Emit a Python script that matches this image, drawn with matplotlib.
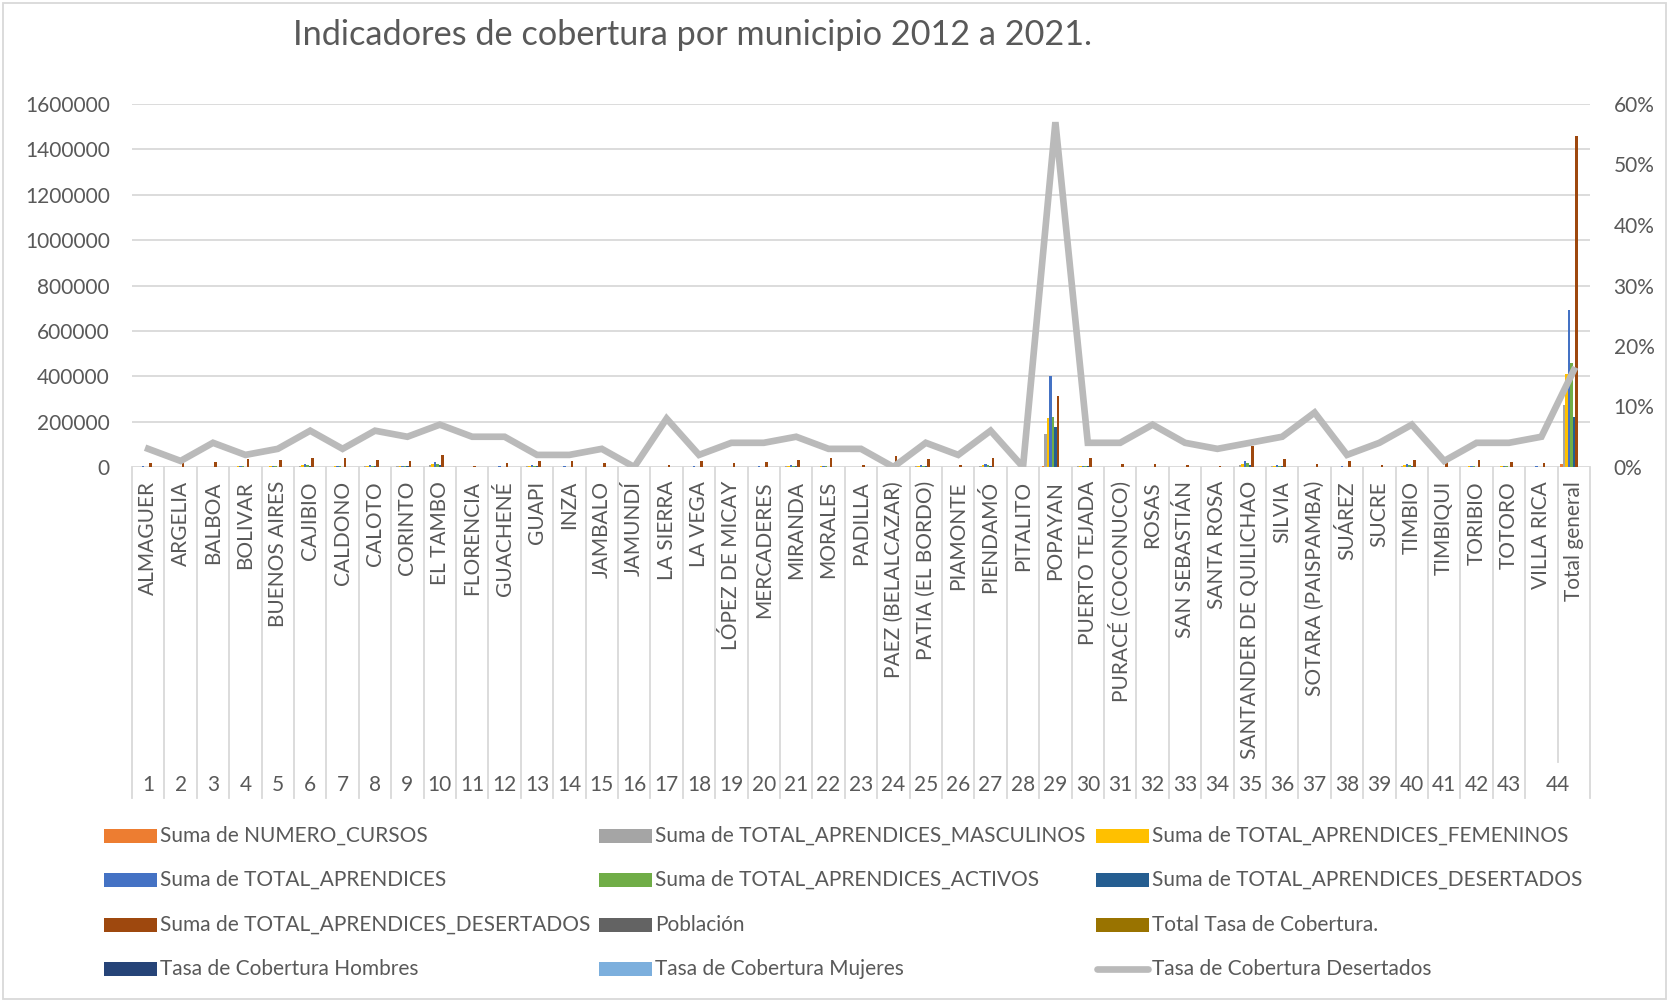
import matplotlib
matplotlib.use("Agg")
import matplotlib.pyplot as plt
from matplotlib.patches import Rectangle
from matplotlib.lines import Line2D
from matplotlib.ticker import FuncFormatter, MultipleLocator
from matplotlib import transforms

plt.rcParams['font.family'] = ['Lato', 'DejaVu Sans']

# ---------------- data ----------------
municipios = ["ALMAGUER", "ARGELIA", "BALBOA", "BOLIVAR", "BUENOS AIRES", "CAJIBIO", "CALDONO",
              "CALOTO", "CORINTO", "EL TAMBO", "FLORENCIA", "GUACHENÉ", "GUAPI", "INZA", "JAMBALO",
              "JAMUNDÍ", "LA SIERRA", "LA VEGA", "LÓPEZ DE MICAY", "MERCADERES", "MIRANDA",
              "MORALES", "PADILLA", "PAEZ (BELALCAZAR)", "PATIA (EL BORDO)", "PIAMONTE",
              "PIENDAMÓ", "PITALITO", "POPAYAN", "PUERTO TEJADA", "PURACÉ (COCONUCO)", "ROSAS",
              "SAN SEBASTIÁN", "SANTA ROSA", "SANTANDER DE QUILICHAO", "SILVIA",
              "SOTARA (PAISPAMBA)", "SUÁREZ", "SUCRE", "TIMBIO", "TIMBIQUI", "TORIBIO", "TOTORO",
              "VILLA RICA", "Total general"]
numeros = ["1", "2", "3", "4", "5", "6", "7", "8", "9", "10", "11", "12", "13", "14", "15", "16",
           "17", "18", "19", "20", "21", "22", "23", "24", "25", "26", "27", "28", "29", "30", "31",
           "32", "33", "34", "35", "36", "37", "38", "39", "40", "41", "42", "43", "44"]

numero_cursos = [150, 100, 100, 200, 200, 400, 200, 300, 200, 500, 50, 150, 250, 150, 100, 10, 100,
                 150, 100, 150, 300, 200, 50, 150, 300, 50, 400, 10, 5500, 200, 100, 100, 50, 50,
                 600, 300, 100, 150, 50, 400, 100, 200, 150, 100, 13000]
aprendices_masculinos = [1200, 800, 800, 2000, 1600, 6000, 2000, 3200, 2400, 9000, 400, 1200, 3200,
                         1200, 800, 40, 800, 1200, 800, 1200, 3200, 2000, 400, 1200, 4000, 400, 5600,
                         40, 146000, 2400, 800, 800, 400, 400, 10000, 3200, 800, 1200, 400, 4800,
                         800, 2000, 1600, 1200, 274000]
aprendices_femeninos = [1800, 1200, 1200, 3000, 2400, 9000, 3000, 4800, 3600, 13000, 600, 1800, 4800,
                        1800, 1200, 60, 1200, 1800, 1200, 1800, 4800, 3000, 600, 1800, 6000, 600,
                        8400, 60, 217000, 3600, 1200, 1200, 600, 600, 15000, 4800, 1200, 1800, 600,
                        7200, 1200, 3000, 2400, 1800, 411000]
total_aprendices = [3000, 2000, 2000, 5000, 4000, 15000, 5000, 8000, 6000, 22000, 1000, 3000, 8000,
                    3000, 2000, 100, 2000, 3000, 2000, 3000, 8000, 5000, 1000, 3000, 10000, 1000,
                    14000, 100, 402000, 6000, 2000, 2000, 1000, 1000, 25000, 8000, 2000, 3000, 1000,
                    12000, 2000, 5000, 4000, 3000, 690000]
aprendices_activos = [1800, 1200, 1200, 3000, 2400, 10000, 3000, 5000, 3600, 15000, 600, 1800, 5000,
                      1800, 1200, 60, 1200, 1800, 1200, 1800, 5000, 3000, 600, 1800, 6000, 600, 9000,
                      60, 221000, 3600, 1200, 1200, 600, 600, 17000, 5000, 1200, 1800, 600, 8000,
                      1200, 3000, 2400, 1800, 460000]
aprendices_desertados = [1200, 800, 800, 2000, 1600, 5000, 2000, 3000, 2400, 7000, 400, 1200, 3000,
                         1200, 800, 40, 800, 1200, 800, 1200, 3000, 2000, 400, 1200, 4000, 400, 5000,
                         40, 177000, 2400, 800, 800, 400, 400, 8000, 3000, 800, 1200, 400, 4000, 800,
                         2000, 1600, 1200, 221000]
aprendices_desertados_2 = [18000, 18000, 20000, 37000, 30000, 40000, 40000, 30000, 25000, 54000,
                           5000, 18000, 28000, 28000, 18000, 0, 10000, 25000, 18000, 22000, 30000,
                           40000, 10000, 47000, 37000, 8000, 40000, 0, 314000, 38000, 15000, 12000,
                           10000, 4000, 93000, 35000, 12000, 25000, 8000, 33000, 20000, 30000, 20000,
                           18000, 1460000]
poblacion = [0] * 45
total_tasa = [0] * 45
tasa_hombres = [0] * 45
tasa_mujeres = [0] * 45
tasa_desertados = [0.03, 0.01, 0.04, 0.02, 0.03, 0.06, 0.03, 0.06, 0.05, 0.07, 0.05, 0.05, 0.02,
                   0.02, 0.03, 0.00, 0.08, 0.02, 0.04, 0.04, 0.05, 0.03, 0.03, 0.00, 0.04, 0.02,
                   0.06, 0.00, 0.57, 0.04, 0.04, 0.07, 0.04, 0.03, 0.04, 0.05, 0.09, 0.02, 0.04,
                   0.07, 0.01, 0.04, 0.04, 0.05, 0.16]

series = [
    ("Suma de NUMERO_CURSOS", numero_cursos, "#ED7D31"),
    ("Suma de TOTAL_APRENDICES_MASCULINOS", aprendices_masculinos, "#A5A5A5"),
    ("Suma de TOTAL_APRENDICES_FEMENINOS", aprendices_femeninos, "#FFC000"),
    ("Suma de TOTAL_APRENDICES", total_aprendices, "#4472C4"),
    ("Suma de TOTAL_APRENDICES_ACTIVOS", aprendices_activos, "#70AD47"),
    ("Suma de TOTAL_APRENDICES_DESERTADOS", aprendices_desertados, "#255E91"),
    ("Suma de TOTAL_APRENDICES_DESERTADOS", aprendices_desertados_2, "#9E480E"),
    ("Población", poblacion, "#636363"),
    ("Total Tasa de Cobertura.", total_tasa, "#997300"),
    ("Tasa de Cobertura Hombres", tasa_hombres, "#264478"),
    ("Tasa de Cobertura Mujeres", tasa_mujeres, "#7CAFDD"),
]
line_label = "Tasa de Cobertura Desertados"
line_color = "#BABABA"

# ---------------- figure ----------------
W, H = 1669, 1002
fig = plt.figure(figsize=(W / 100, H / 100), dpi=100)
TXT = "#595959"
GRID = "#D9D9D9"

def fx(px):
    return px / W

def fy(py):
    return 1 - py / H

left_px, right_px, top_px, bot_px = 132, 1590, 104, 467
ax = fig.add_axes([fx(left_px), fy(bot_px), fx(right_px - left_px), (bot_px - top_px) / H])
n = len(municipios)
ns = len(series)
bw = 0.85 / ns
xs = [i + 0.5 for i in range(n)]
for s, (lab, vals, col) in enumerate(series):
    ax.bar([x + (s - (ns - 1) / 2) * bw for x in xs], vals, width=bw, color=col, zorder=2,
           linewidth=0)
ax.set_xlim(0, n)
ax.set_ylim(0, 1600000)
ax.yaxis.set_major_locator(MultipleLocator(200000))
ax.yaxis.set_major_formatter(FuncFormatter(lambda v, p: f"{int(round(v))}"))
ax.grid(axis='y', color=GRID, linewidth=1.3, zorder=0)
ax.set_axisbelow(True)
for sp in ax.spines.values():
    sp.set_visible(False)
ax.set_xticks([])
ax.tick_params(axis='y', length=0, labelsize=15, labelcolor=TXT, pad=16)

ax2 = ax.twinx()
ax2.plot(xs, tasa_desertados, color=line_color, linewidth=4.8, solid_joinstyle='miter', zorder=3)
ax2.set_ylim(0, 0.6)
ax2.yaxis.set_major_locator(MultipleLocator(0.1))
ax2.yaxis.set_major_formatter(FuncFormatter(lambda v, p: f"{int(round(v * 100))}%"))
ax2.tick_params(axis='y', length=0, labelsize=15, labelcolor=TXT, pad=17)
for sp in ax2.spines.values():
    sp.set_visible(False)
ax2.set_xlim(0, n)

# category axis (two levels)
tr = transforms.blended_transform_factory(ax.transData, fig.transFigure)
name_bottom_px = 762
full_bottom_px = 798
for i in range(n + 1):
    yb = full_bottom_px if i != 44 else name_bottom_px
    ax.add_line(Line2D([i, i], [fy(bot_px), fy(yb)], transform=tr, color=GRID,
                       linewidth=1.3, clip_on=False))
for i, name in enumerate(municipios):
    ax.text(i + 0.5, fy(481), name, transform=tr, rotation=90, ha='center', va='top',
            fontsize=15, color=TXT, clip_on=False)
for i, num in enumerate(numeros):
    xc = i + 0.5 if i < 43 else 44.0
    ax.text(xc, fy(785), num, transform=tr, ha='center', va='center', fontsize=15,
            color=TXT, clip_on=False)

# title
fig.text(fx(692), fy(35), "Indicadores de cobertura por municipio 2012 a 2021.",
         ha='center', va='center', fontsize=24.7, color=TXT)

# legend
col_px = [104, 599, 1096]
row_px = [836, 880, 925, 969]
labels = [s[0] for s in series] + [line_label]
colors = [s[2] for s in series] + [line_color]
for k, (lab, col) in enumerate(zip(labels, colors)):
    r, c = divmod(k, 3)
    x0 = col_px[c]
    yc = row_px[r]
    if k == len(labels) - 1:
        fig.add_artist(Line2D([fx(x0 + 1), fx(x0 + 52)], [fy(yc), fy(yc)], color=col,
                              linewidth=4.8, solid_capstyle='round'))
    else:
        fig.add_artist(Rectangle((fx(x0), fy(yc + 7)), fx(53), 14 / H, color=col, linewidth=0))
    fig.text(fx(x0 + 56), fy(yc), lab, ha='left', va='center', fontsize=15, color=TXT)

# outer border
fig.add_artist(Rectangle((fx(3), fy(999)), fx(W - 6), (996) / H, fill=False,
                         edgecolor=GRID, linewidth=1.3))

fig.savefig("out.png", dpi=100)
